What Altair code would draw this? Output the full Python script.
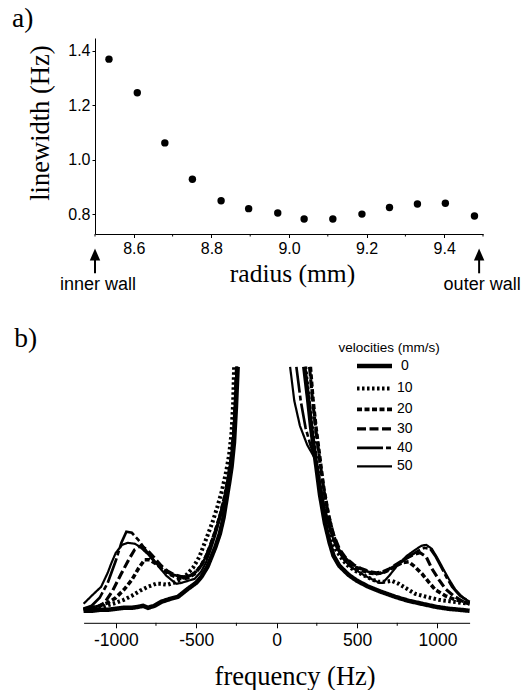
import altair as alt
import pandas as pd

# ---------------- panel a data ----------------
radius_mm = [8.536, 8.609, 8.680, 8.751, 8.825, 8.896, 8.971, 9.039, 9.113, 9.188, 9.259, 9.331, 9.403, 9.478]
linewidth_hz = [1.369, 1.246, 1.062, 0.929, 0.850, 0.821, 0.805, 0.783, 0.783, 0.801, 0.825, 0.838, 0.841, 0.794]
radius_ticks = [8.6, 8.8, 9.0, 9.2, 9.4]
radius_minor = [8.5, 8.7, 8.9, 9.1, 9.3, 9.5]
lw_ticks = [0.8, 1.0, 1.2, 1.4]
wall_labels = ["inner wall", "outer wall"]
wall_radius = [8.5, 9.49]
panel_labels = ["a)", "b)"]

# ---------------- panel b data ----------------
velocities = ["0", "10", "20", "30", "40", "50"]
freq_ticks = [-1000, -500, 0, 500, 1000]
freq_minor = [-750, -250, 250, 750]

v0_left_f = [-1200, -1150, -1100, -1050, -1000, -950, -900, -860, -830, -800, -760, -717, -660, -613, -551, -500, -468, -430, -405, -380, -353, -330, -312, -295, -280, -265, -253, -242]
v0_left_i = [12, 12, 13, 13, 14, 15, 15, 16, 17, 15, 17, 21, 24, 26, 34, 40, 46, 56, 66, 76, 89, 105, 123, 140, 156, 180, 215, 256]
v0_right_f = [172, 195, 215, 240, 270, 300, 330, 354, 390, 447, 500, 572, 650, 738, 820, 904, 990, 1070, 1140, 1200]
v0_right_i = [256, 225, 195, 165, 128, 100, 80, 67, 57, 48, 42, 36, 31, 26, 22, 19, 16, 14, 13, 12]

v10_left_f = [-1200, -1100, -1000, -950, -900, -850, -800, -750, -720, -680, -640, -600, -560, -520, -480, -435, -400, -370, -340, -315, -295, -280, -270, -264]
v10_left_i = [13, 15, 20, 23, 27, 32, 36, 39, 39, 38, 40, 43, 48, 55, 66, 85, 100, 115, 132, 150, 168, 190, 220, 256]
v10_right_f = [178, 200, 220, 245, 275, 305, 340, 370, 410, 450, 500, 560, 600, 634, 680, 717, 760, 800, 862, 930, 1008, 1100, 1200]
v10_right_i = [256, 222, 195, 165, 128, 103, 84, 73, 63, 56, 51, 46, 43, 41, 41, 42, 39, 35, 29, 26, 23, 21, 19]

v20_left_f = [-1200, -1150, -1100, -1050, -1000, -950, -900, -860, -821, -790, -750, -710, -670, -630, -590, -550, -510, -470, -440, -410, -380, -350, -320, -300, -282, -266, -256, -248]
v20_left_i = [14, 15, 17, 20, 25, 33, 43, 54, 63, 63, 59, 54, 49, 46, 44, 45, 49, 57, 66, 78, 92, 108, 128, 145, 165, 190, 220, 256]
v20_right_f = [210, 225, 245, 265, 290, 320, 350, 380, 420, 470, 520, 570, 620, 660, 700, 740, 780, 821, 860, 904, 950, 987, 1050, 1112, 1160, 1200]
v20_right_i = [256, 225, 195, 170, 138, 110, 89, 75, 64, 57, 53, 50, 49, 50, 53, 57, 60, 61, 56, 49, 40, 33, 27, 23, 21, 19]

v30_left_f = [-1200, -1150, -1100, -1070, -1020, -966, -920, -883, -845, -805, -760, -717, -680, -634, -590, -550, -510, -470, -440, -410, -380, -350, -320, -300, -282, -266, -256, -248]
v30_left_i = [13, 15, 17, 20, 32, 49, 63, 73, 77, 73, 65, 57, 52, 48, 46, 46, 50, 57, 66, 78, 92, 108, 128, 145, 165, 190, 220, 256]
v30_right_f = [205, 222, 245, 268, 295, 325, 355, 390, 430, 480, 530, 580, 620, 660, 700, 750, 800, 850, 892, 930, 966, 1010, 1049, 1100, 1150, 1200]
v30_right_i = [256, 225, 192, 163, 132, 106, 88, 74, 65, 58, 54, 51, 50, 51, 54, 59, 64, 68, 70, 66, 54, 43, 34, 27, 22, 19]

v40_left_f = [-1200, -1150, -1100, -1050, -1000, -965, -934, -900, -860, -820, -780, -740, -700, -660, -620, -580, -540, -500, -470, -440, -410, -380, -350, -320, -300, -282, -266, -256, -248]
v40_left_i = [14, 17, 25, 40, 62, 80, 91, 90, 83, 74, 65, 58, 52, 49, 47, 46, 47, 51, 57, 66, 78, 92, 108, 128, 145, 165, 190, 220, 256]
v40_right_f = [123, 150, 180, 210, 240, 265, 290, 320, 350, 380, 420, 470, 520, 570, 620, 660, 700, 760, 820, 880, 920, 955, 990, 1020, 1055, 1091, 1140, 1200]
v40_right_i = [256, 222, 195, 178, 165, 142, 120, 100, 86, 75, 66, 58, 54, 51, 49, 50, 53, 59, 66, 72, 75, 74, 66, 57, 46, 36, 27, 21]

v50_left_f = [-1200, -1150, -1091, -1050, -1029, -1000, -960, -925, -880, -850, -810, -779, -740, -717, -685, -655, -623, -590, -550, -509, -470, -440, -410, -380, -350, -320, -300, -282, -266, -256, -248]
v50_left_i = [19, 27, 36, 50, 59, 70, 78, 80, 79, 76, 70, 66, 58, 53, 47, 43, 39, 40, 42, 44, 51, 60, 73, 88, 106, 127, 145, 165, 190, 220, 256]
v50_right_f = [84, 110, 145, 190, 225, 250, 275, 300, 330, 360, 384, 420, 460, 500, 550, 600, 640, 660, 700, 759, 810, 862, 900, 930, 965, 995, 1029, 1070, 1112, 1160, 1200]
v50_right_i = [256, 222, 197, 178, 168, 160, 135, 114, 94, 80, 72, 63, 56, 52, 47, 43, 40, 40, 47, 59, 67, 73, 77, 78, 74, 66, 56, 44, 33, 25, 21]

series = {
    "0": (v0_left_f, v0_left_i, v0_right_f, v0_right_i),
    "10": (v10_left_f, v10_left_i, v10_right_f, v10_right_i),
    "20": (v20_left_f, v20_left_i, v20_right_f, v20_right_i),
    "30": (v30_left_f, v30_left_i, v30_right_f, v30_right_i),
    "40": (v40_left_f, v40_left_i, v40_right_f, v40_right_i),
    "50": (v50_left_f, v50_left_i, v50_right_f, v50_right_i),
}

rows = []
for vel, (lf, li, rf, ri) in series.items():
    for f, i in zip(lf, li):
        rows.append({"velocity": vel, "branch": "left", "f": f, "v": i})
    for f, i in zip(rf, ri):
        rows.append({"velocity": vel, "branch": "right", "f": f, "v": i})
df_b = pd.DataFrame(rows)

df_a = pd.DataFrame({"r": radius_mm, "lw": linewidth_hz})
df_a_minor = pd.DataFrame({"r": radius_minor})
df_walls = pd.DataFrame({"r": wall_radius, "label": wall_labels})
df_b_minor = pd.DataFrame({"f": freq_minor})

SANS = "Liberation Sans"
SERIF = "Liberation Serif"

# ---------------- panel a ----------------
W_A, H_A = 388, 196
xa = alt.X("r:Q",
           scale=alt.Scale(domain=[8.5, 9.5], nice=False, zero=False),
           axis=alt.Axis(values=radius_ticks, format=".1f", tickSize=3.5, tickColor="black",
                         domainColor="black", labelFont=SANS, labelFontSize=16, labelColor="black",
                         labelPadding=3, grid=False, title="radius (mm)", titleFont=SERIF,
                         titleFontSize=25.5, titleFontWeight="normal", titleColor="black",
                         titleX=197, titleY=47, titleBaseline="alphabetic", titleAlign="center"))
ya = alt.Y("lw:Q",
           scale=alt.Scale(domain=[0.728, 1.4465], nice=False, zero=False),
           axis=alt.Axis(values=lw_ticks, format=".1f", tickSize=3, tickColor="black",
                         domainColor="black", labelFont=SANS, labelFontSize=16, labelColor="black",
                         labelPadding=2, grid=False, title="linewidth (Hz)", titleFont=SERIF,
                         titleFontSize=26.5, titleFontWeight="normal", titleColor="black",
                         titleAngle=270, titleX=-46.7, titleY=84.6, titleBaseline="alphabetic",
                         titleAlign="center"))

points = alt.Chart(df_a).mark_circle(size=55, color="black", opacity=1).encode(x=xa, y=ya)
minor_a = alt.Chart(df_a_minor).mark_rule(color="black", strokeWidth=1).encode(
    x=xa, y=alt.value(H_A), y2=alt.value(H_A + 2.5))
shafts = alt.Chart(df_walls).mark_rule(color="black", strokeWidth=2).encode(
    x=xa, y=alt.value(220), y2=alt.value(235.3))
heads = alt.Chart(df_walls).mark_point(shape="M0,-1L-0.85,1L0.85,1Z", filled=True, size=150,
                                       color="black", opacity=1).encode(x=xa, y=alt.value(216.5))
wall_text = alt.Chart(df_walls).mark_text(font=SANS, fontSize=18, color="black", align="center",
                                          baseline="alphabetic", dx=3).encode(
    x=xa, y=alt.value(252), text="label:N")
label_a = alt.Chart(pd.DataFrame({"t": [panel_labels[0]]})).mark_text(
    font=SERIF, fontSize=27.5, color="black", align="left", baseline="alphabetic").encode(
    x=alt.value(-82.9), y=alt.value(-11), text="t:N")

panel_a = alt.layer(points, minor_a, shafts, heads, wall_text, label_a).properties(width=W_A, height=H_A)

# ---------------- panel b ----------------
W_B, H_B = 375, 256
xb = alt.X("f:Q",
           scale=alt.Scale(domain=[-1200, 1200], range=[-11.4, 374.6], nice=False, zero=False),
           axis=alt.Axis(values=freq_ticks, labelExpr="'' + datum.value", tickSize=5, tickColor="black",
                         domainColor="black", labelFont=SANS, labelFontSize=17.5, labelColor="black",
                         labelPadding=3.5, grid=False, title="frequency (Hz)", titleFont=SERIF,
                         titleFontSize=26.5, titleFontWeight="normal", titleColor="black",
                         titleX=199.6, titleY=61.7, titleBaseline="alphabetic", titleAlign="center"))
yb = alt.Y("v:Q", scale=alt.Scale(domain=[0, 256], nice=False, zero=False), axis=None)

# legend is placed in the coordinates of the whole concat (panel a's origin)
legend = alt.Legend(title="velocities (mm/s)", titleFont=SANS, titleFontSize=13.5,
                    titleFontWeight="normal", titleColor="black", titlePadding=3,
                    orient="none", legendX=243.6, legendY=302.9,
                    symbolType="M1.70,0L7.70,0", symbolSize=136, symbolStrokeColor="black",
                    labelFont=SANS, labelFontSize=14, labelColor="black", labelAlign="center",
                    labelOffset=49.2, rowPadding=4, padding=0)

lines = alt.Chart(df_b).mark_line(color="black").encode(
    x=xb, y=yb,
    strokeDash=alt.StrokeDash("velocity:O",
                              scale=alt.Scale(domain=velocities,
                                              range=[[1, 0], [2.5, 2.5], [5, 2.5], [9, 3.5], [26, 3, 5, 3], [1, 0]]),
                              legend=legend),
    strokeWidth=alt.StrokeWidth("velocity:O",
                                scale=alt.Scale(domain=velocities, range=[4.5, 2.2, 2.2, 2.2, 2.2, 2.2]),
                                legend=legend),
    detail="branch:N",
)
minor_b = alt.Chart(df_b_minor).mark_rule(color="black", strokeWidth=1).encode(
    x=xb, y=alt.value(H_B), y2=alt.value(H_B + 3))
label_b = alt.Chart(pd.DataFrame({"t": [panel_labels[1]]})).mark_text(
    font=SERIF, fontSize=27.5, color="black", align="left", baseline="alphabetic").encode(
    x=alt.value(-80.7), y=alt.value(-20), text="t:N")

panel_b = alt.layer(lines, minor_b, label_b).properties(width=W_B, height=H_B)

chart = alt.vconcat(panel_a, panel_b, spacing=132.8, bounds="flush").properties(
    padding={"left": 12, "top": 5, "right": 2, "bottom": 0},
    background="white",
).configure_view(stroke=None)

chart.save("out.html", embed_options={"renderer": "svg", "actions": False})
